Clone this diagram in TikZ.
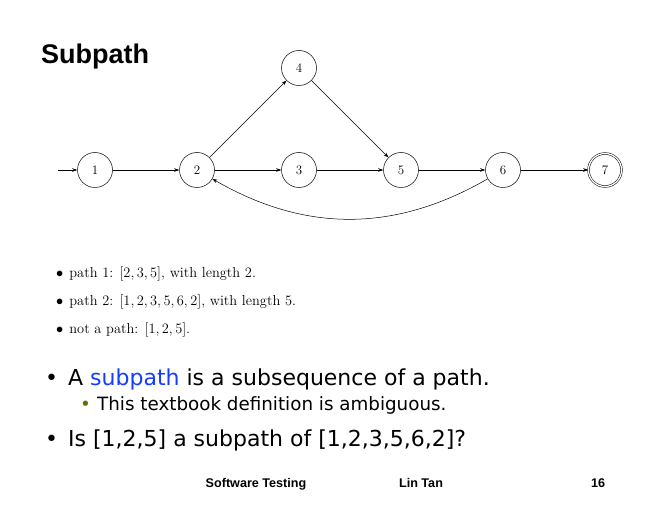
\documentclass[tikz,border=0pt]{standalone}
\usepackage{fontspec}
\usetikzlibrary{arrows.meta}
\newfontfamily\verd{DejaVu Sans}
\newfontfamily\arialf{Liberation Sans}
\definecolor{subblue}{RGB}{20,60,255}
\definecolor{olivebul}{RGB}{110,110,0}
\begin{document}
\begin{tikzpicture}[x=1pt,y=-1pt,
  state/.style={circle,draw,line width=0.5pt,minimum size=35pt,inner sep=0pt,font=\fontsize{13}{15}\selectfont},
  final/.style={state,double,double distance=1.3pt,minimum size=33pt},
  edge/.style={-{Stealth[length=5pt,width=3.5pt]},line width=0.5pt},
  cmtext/.style={anchor=base west,inner sep=0pt,font=\fontsize{14.4}{17}\selectfont},
  big/.style={anchor=base west,inner sep=0pt,font=\verd\fontsize{22}{26}\selectfont},
  small/.style={anchor=base west,inner sep=0pt,font=\verd\fontsize{18.3}{21}\selectfont},
  foot/.style={anchor=base,inner sep=0pt,font=\arialf\bfseries\fontsize{12.6}{14}\selectfont}]
\useasboundingbox (0,0) rectangle (660,510);
\node[anchor=base west,inner sep=0pt,font=\arialf\bfseries\fontsize{27}{30}\selectfont] (title) at (41,64) {Subpath};
% graph
\node[state] (n1) at (95,170) {1};
\node[state] (n2) at (197,170) {2};
\node[state] (n3) at (299,170) {3};
\node[state] (n4) at (299,68) {4};
\node[state] (n5) at (401,170) {5};
\node[state] (n6) at (503,170) {6};
\node[final] (n7) at (605,170) {7};
\coordinate (start) at (58,170);
\draw[edge] (start) -- (n1);
\draw[edge] (n1) -- (n2);
\draw[edge] (n2) -- (n3);
\draw[edge] (n2) -- (n4);
\draw[edge] (n4) -- (n5);
\draw[edge] (n3) -- (n5);
\draw[edge] (n5) -- (n6);
\draw[edge] (n6) -- (n7);
\draw[edge] (n6) to[bend left=30] (n2);
% cm bullets
\node[cmtext] (b1) at (56,277) {$\bullet$\hspace{6pt}path 1: $[2,3,5]$, with length 2.};
\node[cmtext] (b2) at (56,305) {$\bullet$\hspace{6pt}path 2: $[1,2,3,5,6,2]$, with length 5.};
\node[cmtext] (b3) at (56,333) {$\bullet$\hspace{6pt}not a path: $[1,2,5]$.};
% slide bullets
\node[big] (s1b) at (45,385) {\textbullet};
\node[big] (s1) at (68,385) {A \textcolor{subblue}{subpath} is a subsequence of a path.};
\node[small,text=olivebul] (s2b) at (80,410) {\textbullet};
\node[small] (s2) at (97,410) {This textbook definition is ambiguous.};
\node[big] (s3b) at (45,446) {\textbullet};
\node[big] (s3) at (68,446) {Is [1,2,5] a subpath of [1,2,3,5,6,2]?};
% footer
\node[foot] (f1) at (256,487) {Software Testing};
\node[foot] (f2) at (421,487) {Lin Tan};
\node[foot] (f3) at (598,487) {16};
\end{tikzpicture}
\end{document}
